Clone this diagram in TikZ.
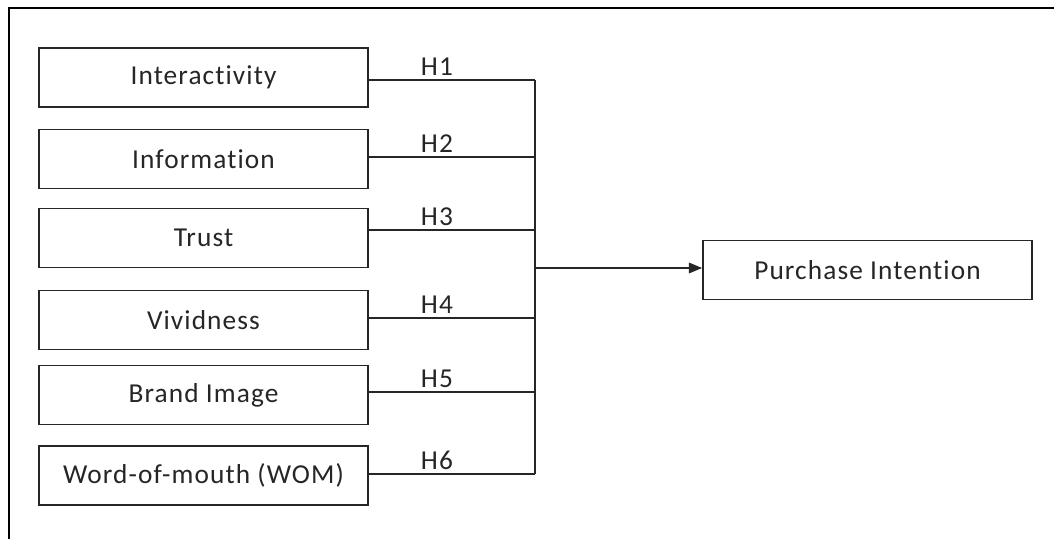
\documentclass[tikz,border=0pt]{standalone}
\usepackage{fontspec}
\setmainfont{Carlito}[Ligatures={NoCommon},LetterSpace=4]
\usetikzlibrary{arrows.meta,calc}
\begin{document}
\begin{tikzpicture}[x=0.75pt,y=-0.75pt,
  factor/.style={draw=black!85,line width=1.3pt,minimum width=329*0.75pt,minimum height=59*0.75pt,inner sep=0pt,anchor=center,font=\fontsize{20.5}{24}\selectfont,text=black!85},
  link/.style={draw=black!85,line width=1.1pt},
  hlab/.style={anchor=south,inner sep=3pt,font=\fontsize{20.5}{24}\selectfont,text=black!85}]
\useasboundingbox (0,0) rectangle (1054,539);
\fill[white] (0,0) rectangle (1054,539);
% frame
\draw[black,line width=1.6pt] (9,539) -- (9,8) -- (1054,8);
% factor boxes
\node[factor] (b1) at (203.5,77.5) {Interactivity};
\node[factor] (b2) at (203.5,159) {Information};
\node[factor] (b3) at (203.5,238) {Trust};
\node[factor] (b4) at (203.5,320) {Vividness};
\node[factor] (b5) at (203.5,395) {Brand Image};
\node[factor] (b6) at (203.5,475.5) {Word-of-mouth (WOM)};
\node[factor] (pi) at (867.5,270) {Purchase Intention};
% junction points
\coordinate (j1) at (535,80);
\coordinate (j2) at (535,157);
\coordinate (j3) at (535,230);
\coordinate (j4) at (535,318);
\coordinate (j5) at (535,392);
\coordinate (j6) at (535,474);
\coordinate (jm) at (535,268);
\foreach \i/\h in {1/H1,2/H2,3/H3,4/H4,5/H5,6/H6}{
  \draw[link] (b\i.east |- j\i) -- (j\i);
  \node[hlab] (h\i) at ($(b\i.east |- j\i)!0.41!(j\i)$) {\h};
}
\draw[link] (j1) -- (j6);
\draw[link,-{Triangle[length=10pt,width=8pt]}] (jm) -- (pi.west |- jm);
\end{tikzpicture}
\end{document}
